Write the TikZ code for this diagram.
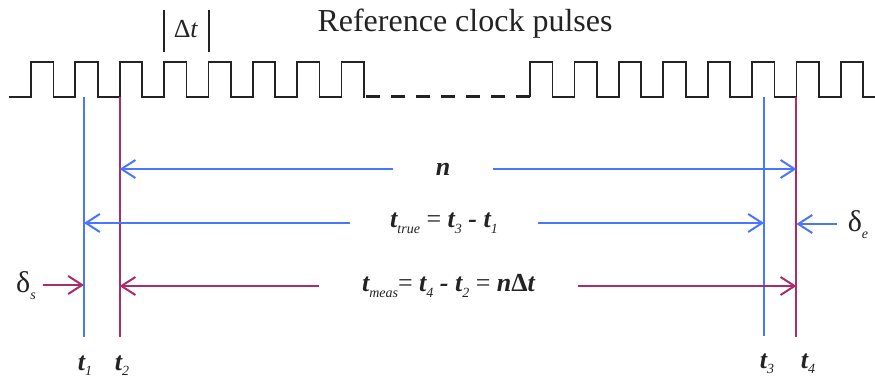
\documentclass[tikz,border=0pt]{standalone}
\usepackage{fontspec}
\setmainfont{Liberation Serif}
\usetikzlibrary{arrows.meta}
\definecolor{cblue}{RGB}{72,118,255}
\definecolor{cpink}{RGB}{168,45,105}
\definecolor{cblack}{RGB}{35,35,35}
\newcommand\mysub[1]{\raisebox{-0.5ex}{\fontsize{14}{14}\selectfont\mdseries\itshape #1}}
\newcommand\myeq{{\mdseries\upshape\ =\ }}
\tikzset{
  pulse/.style={draw=cblack, line width=1.8pt, line join=miter},
  gapline/.style={draw=cblack, line width=3pt, dash pattern=on 14pt off 11pt},
  vline/.style={line width=2pt},
  arr/.style={-{Straight Barb[length=14pt,width=18pt]}, line width=2pt},
  lab/.style={font=\fontsize{26}{28}\selectfont\bfseries\itshape, text=cblack, inner sep=0pt},
  tlab/.style={font=\fontsize{26}{28}\selectfont\bfseries\itshape, text=cblack, inner sep=0pt, anchor=base},
  dlab/.style={font=\fontsize{30}{31}\selectfont, text=cblack, inner sep=0pt},
  bar/.style={draw=cblack, line width=2pt}
}
\begin{document}
\begin{tikzpicture}[x=1pt,y=-1pt]
\useasboundingbox (0,0) rectangle (875,379);
% title and period mark
\node[font=\fontsize{32}{34}\selectfont, text=cblack, anchor=base, inner sep=0pt] (title) at (465,32) {Reference clock pulses};
\node[font=\fontsize{26}{28}\selectfont, text=cblack, anchor=base, inner sep=0pt] (dt) at (186,38) {Δ\textit{t}};
\draw[bar] (164,10) -- (164,52);
\draw[bar] (209,10) -- (209,52);
% pulse train
\draw[pulse] (9,97) foreach \k in {0,...,7} { -- ({31+44.35*\k},97) -- ++(0,-35) -- ++(22.4,0) -- ++(0,35) } -- (364,97);
\draw[gapline] (366,96.5) -- (530,96.5);
\draw[pulse] (530,97) foreach \k in {0,...,7} { -- ({530+44.4*\k},97) -- ++(0,-35) -- ++(22.4,0) -- ++(0,35) } -- (876,97);
% vertical time marks
\coordinate (t1top) at (84,97);  \coordinate (t1bot) at (84,337);
\coordinate (t2top) at (119.6,97); \coordinate (t2bot) at (119.6,337);
\coordinate (t3top) at (764,97); \coordinate (t3bot) at (764,336);
\coordinate (t4top) at (796.4,97); \coordinate (t4bot) at (796.4,337);
\draw[vline, cblue] (t1top) -- (t1bot);
\draw[vline, cpink] (t2top) -- (t2bot);
\draw[vline, cblue] (t3top) -- (t3bot);
\draw[vline, cpink] (t4top) -- (t4bot);
% n arrow
\node[lab, minimum width=100pt] (lbn) at (443,169) {n};
\draw[arr, cblue] (lbn.west) -- (lbn.west -| t2top);
\draw[arr, cblue] (lbn.east) -- (lbn.east -| t4top);
% t_true arrow
\node[lab, minimum width=188pt] (lbtrue) at (444,223) {t\mysub{true}\myeq t\mysub{3} - t\mysub{1}};
\draw[arr, cblue] (lbtrue.west) -- (lbtrue.west -| t1top);
\draw[arr, cblue] (lbtrue.east) -- (lbtrue.east -| t3top);
% t_meas arrow
\node[lab, minimum width=259pt] (lbmeas) at (448.5,286) {t\mysub{meas}{\mdseries\upshape =\ }t\mysub{4} - t\mysub{2}\myeq n{\upshape Δ}t};
\draw[arr, cpink] (lbmeas.west) -- (lbmeas.west -| t2top);
\draw[arr, cpink] (lbmeas.east) -- (lbmeas.east -| t4top);
% delta_s
\node[dlab] (lbds) at (26,286) {δ\mysub{s}};
\coordinate (ds0) at (43,285);
\draw[arr, cpink] (ds0) -- (ds0 -| t1top);
% delta_e
\node[dlab] (lbde) at (858,225) {δ\mysub{e}};
\coordinate (de0) at (837,224);
\draw[arr, cblue] (de0) -- (de0 -| t4top);
% time labels
\node[tlab] (lt1) at (85,370) {t\mysub{1}};
\node[tlab] (lt2) at (122,370) {t\mysub{2}};
\node[tlab] (lt3) at (767,368) {t\mysub{3}};
\node[tlab] (lt4) at (808,368) {t\mysub{4}};
\end{tikzpicture}
\end{document}
